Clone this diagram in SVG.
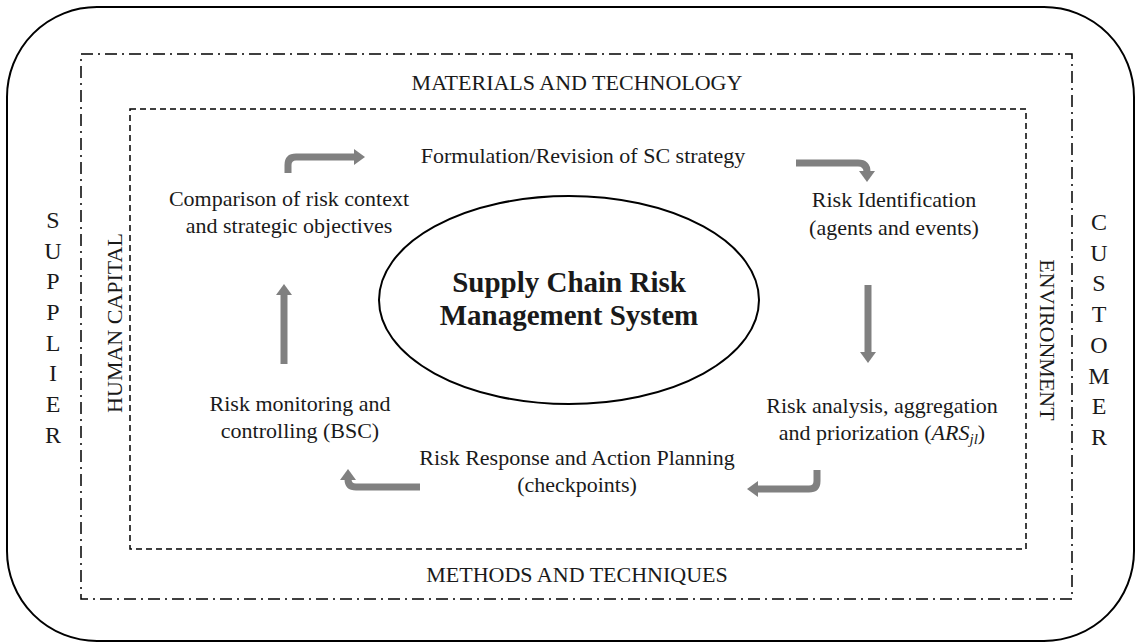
<svg xmlns="http://www.w3.org/2000/svg" width="1136" height="643" viewBox="0 0 1136 643">
<defs>
<style>
text{font-family:"Liberation Serif","Times New Roman",serif;fill:#1a1a1a;font-size:22px}
.c{text-anchor:middle}
.l{font-size:24px}
.b{font-weight:bold;font-size:29px}
.ar{fill:none;stroke:#808080;stroke-width:7;marker-end:url(#ah)}
</style>
<marker id="ah" markerUnits="userSpaceOnUse" markerWidth="18" markerHeight="18" refX="2" refY="9" orient="auto" viewBox="0 0 18 18">
<path d="M0 1 L11 9 L0 17 Z" fill="#808080"/>
</marker>
</defs>
<rect x="7" y="7" width="1127" height="634" rx="90" ry="90" fill="none" stroke="#000" stroke-width="2"/>
<rect x="81" y="54" width="991" height="545" fill="none" stroke="#000" stroke-width="1.5" stroke-dasharray="12,5,2,5"/>
<rect x="130" y="109" width="896" height="440" fill="none" stroke="#000" stroke-width="1.5" stroke-dasharray="6,4"/>
<g id="labels-frame">
<text class="c" x="577" y="90">MATERIALS AND TECHNOLOGY</text>
<text class="c" x="577" y="582">METHODS AND TECHNIQUES</text>
<text class="c" transform="translate(122,323) rotate(-90)">HUMAN CAPITAL</text>
<text class="c" transform="translate(1040,340) rotate(90)">ENVIRONMENT</text>
</g>
<g id="supplier">
<text class="c l" x="53" y="228">S</text><text class="c l" x="53" y="259">U</text><text class="c l" x="53" y="289">P</text><text class="c l" x="53" y="320">P</text><text class="c l" x="53" y="351">L</text><text class="c l" x="53" y="381">I</text><text class="c l" x="53" y="412">E</text><text class="c l" x="53" y="443">R</text>
</g>
<g id="customer">
<text class="c l" x="1099" y="230">C</text><text class="c l" x="1099" y="261">U</text><text class="c l" x="1099" y="291">S</text><text class="c l" x="1099" y="322">T</text><text class="c l" x="1099" y="353">O</text><text class="c l" x="1099" y="384">M</text><text class="c l" x="1099" y="414">E</text><text class="c l" x="1099" y="445">R</text>
</g>
<g id="center">
<ellipse cx="569" cy="300" rx="190" ry="104" fill="none" stroke="#000" stroke-width="2"/>
<text class="c b" x="569" y="292">Supply Chain Risk</text>
<text class="c b" x="569" y="325">Management System</text>
</g>
<g id="formulation"><text class="c" x="583" y="163">Formulation/Revision of SC strategy</text></g>
<g id="identification"><text class="c" x="894" y="207">Risk Identification</text><text class="c" x="894" y="235">(agents and events)</text></g>
<g id="analysis"><text class="c" x="882" y="413">Risk analysis, aggregation</text><text class="c" x="882" y="440">and priorization  (<tspan font-style="italic">ARS</tspan><tspan font-style="italic" font-size="15" dy="4">jl</tspan><tspan dy="-4">)</tspan></text></g>
<g id="response"><text class="c" x="577" y="465">Risk Response and Action Planning</text><text class="c" x="577" y="492">(checkpoints)</text></g>
<g id="monitoring"><text class="c" x="300" y="411">Risk monitoring and</text><text class="c" x="300" y="438">controlling (BSC)</text></g>
<g id="comparison"><text class="c" x="289" y="206">Comparison of risk context</text><text class="c" x="289" y="233">and strategic  objectives</text></g>
<g id="connectors">
<path class="ar" d="M288 173 V165 Q288 157 296 157 H356"/>
<path class="ar" d="M796 163 H858 Q867 163 867 172 V173"/>
<path class="ar" d="M868 285 V354"/>
<path class="ar" d="M817 470 V481 Q817 489 809 489 H756"/>
<path class="ar" d="M420 487 H356 Q348 487 348 479 V478"/>
<path class="ar" d="M284 364 V293"/>
</g>
</svg>
